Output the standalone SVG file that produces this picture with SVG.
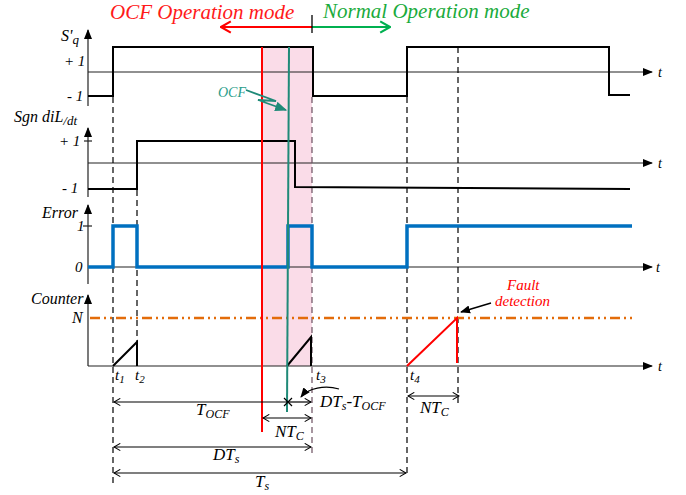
<svg xmlns="http://www.w3.org/2000/svg" width="686" height="495" viewBox="0 0 686 495" font-family="'Liberation Serif','Times New Roman',serif">
<defs>
<style>
text{font-family:"Liberation Serif","Times New Roman",serif;font-style:italic;fill:#000}
.ax{stroke:#222;stroke-width:1.2;fill:none}
.wf{stroke:#000;stroke-width:2;fill:none}
.blue{stroke:#0070c0;stroke-width:3.5;fill:none}
.dash{stroke:#000;stroke-width:1.2;stroke-dasharray:6 4;fill:none}
.dim{stroke:#000;stroke-width:1.2;fill:none;marker-start:url(#ch);marker-end:url(#ch)}
.lbl{font-size:15px}
.tl{font-size:14px}
</style>
<marker id="ah" viewBox="0 0 10 10" refX="9" refY="5" markerWidth="10" markerHeight="10" markerUnits="userSpaceOnUse" orient="auto">
<path d="M0,1 L10,5 L0,9 Z" fill="#000"/>
</marker>
<marker id="ch" viewBox="0 0 10 10" refX="9" refY="5" markerWidth="9" markerHeight="9" markerUnits="userSpaceOnUse" orient="auto-start-reverse">
<path d="M2,1 L9,5 L2,9" fill="none" stroke="#000" stroke-width="1.2"/>
</marker>
<marker id="chr" viewBox="0 0 10 10" refX="9" refY="5" markerWidth="14" markerHeight="14" markerUnits="userSpaceOnUse" orient="auto">
<path d="M2,1 L9,5 L2,9" fill="none" stroke="#ff0000" stroke-width="1.5"/>
</marker>
<marker id="chg" viewBox="0 0 10 10" refX="9" refY="5" markerWidth="14" markerHeight="14" markerUnits="userSpaceOnUse" orient="auto">
<path d="M2,1 L9,5 L2,9" fill="none" stroke="#00b050" stroke-width="1.5"/>
</marker>
<marker id="ta" viewBox="0 0 10 10" refX="9" refY="5" markerWidth="12" markerHeight="12" markerUnits="userSpaceOnUse" orient="auto">
<path d="M0,1 L10,5 L0,9 Z" fill="#1f8a78"/>
</marker>
</defs>

<g id="ocf-region">
<rect x="263" y="47" width="49" height="319" fill="#fadce8"/>
</g>

<g id="titles">
<text x="110" y="19" font-size="21" style="fill:#ff1a1a">OCF Operation mode</text>
<text x="323" y="18" font-size="21" style="fill:#1aab3c">Normal Operation mode</text>
<line x1="312" y1="27" x2="221" y2="27" stroke="#ff0000" stroke-width="1.8" marker-end="url(#chr)"/>
<line x1="312" y1="27" x2="390" y2="27" stroke="#00b050" stroke-width="1.8" marker-end="url(#chg)"/>
<line x1="312" y1="15" x2="312" y2="33" stroke="#000" stroke-width="1.3"/>
</g>

<g id="axes">
<line class="ax" x1="88" y1="106" x2="88" y2="30" marker-end="url(#ah)"/>
<line class="ax" x1="88" y1="72" x2="652" y2="72" marker-end="url(#ah)"/>
<line class="ax" x1="88" y1="197" x2="88" y2="128" marker-end="url(#ah)"/>
<line class="ax" x1="84" y1="141" x2="92" y2="141"/>
<line class="ax" x1="88" y1="163" x2="652" y2="163" marker-end="url(#ah)"/>
<line class="ax" x1="88" y1="284" x2="88" y2="205" marker-end="url(#ah)"/>
<line class="ax" x1="83" y1="226" x2="92" y2="226"/>
<line class="ax" x1="88" y1="267" x2="652" y2="267" marker-end="url(#ah)"/>
<line class="ax" x1="88" y1="366" x2="88" y2="295" marker-end="url(#ah)"/>
<line class="ax" x1="88" y1="366" x2="652" y2="366" marker-end="url(#ah)"/>
</g>

<g id="axis-labels">
<text x="61" y="41" font-size="16">S'<tspan font-size="13" dy="3">q</tspan></text>
<text class="lbl" x="64" y="66">+ 1</text>
<text class="lbl" x="67" y="101">- 1</text>
<text x="14" y="122" font-size="16">Sgn diL<tspan font-size="13" dy="3">/dt</tspan></text>
<text class="lbl" x="59" y="146">+ 1</text>
<text class="lbl" x="62" y="193">-  1</text>
<text x="42" y="218" font-size="16">Error</text>
<text class="lbl" x="77" y="231">1</text>
<text class="lbl" x="75" y="272">0</text>
<text x="31" y="304" font-size="16">Counter</text>
<text x="72" y="323" font-size="16">N</text>
<text class="tl" x="658" y="77">t</text>
<text class="tl" x="658" y="168">t</text>
<text class="tl" x="656" y="272">t</text>
<text class="tl" x="658" y="371">t</text>
</g>

<g id="dashed-lines">
<line class="dash" x1="113" y1="97" x2="113" y2="486"/>
<line class="dash" x1="137" y1="190" x2="137" y2="366"/>
<line class="dash" x1="312" y1="97" x2="312" y2="454" style="stroke:#6b5060"/>
<line class="dash" x1="407" y1="97" x2="407" y2="475"/>
<line class="dash" x1="458" y1="47" x2="458" y2="405"/>
</g>

<g id="waveforms">
<polyline class="wf" points="88,96 113,96 113,47 313,47 313,96 407,96 407,47 609,47 609,95 630,95"/>
<polyline class="wf" points="88,189 137,189 137,141 295,141 295,187 630,189"/>
<polyline class="blue" points="88,267 113,267 113,226 137,226 137,267 288,267 288,226 312,226 312,267 407,267 407,226 632,226"/>
<line x1="90" y1="318" x2="632" y2="318" stroke="#e36c0a" stroke-width="2.5" stroke-dasharray="10 4 2 4 2 4"/>
<polyline class="wf" points="113,366 137,342 137,366"/>
<polyline class="wf" points="287,366 311,337 311,366"/>
<polyline points="407,366 457,318 457,363" fill="none" stroke="#ff0000" stroke-width="2"/>
</g>

<g id="ocf-lines">
<line x1="262" y1="47" x2="262" y2="432" stroke="#ff0000" stroke-width="2"/>
<line x1="289" y1="47" x2="287" y2="412" stroke="#1f8a78" stroke-width="2"/>
<text x="218" y="97" font-size="14" style="fill:#2a9d8a">OCF</text>
<polyline points="246,90 276,101 258,100 286,110" fill="none" stroke="#1f8a78" stroke-width="1.8" marker-end="url(#ta)"/>
</g>

<g id="connectors">
<line class="dim" x1="114" y1="402" x2="287" y2="402" style="marker-end:none"/>
<line class="dim" x1="289" y1="402" x2="311" y2="402" style="marker-start:none"/>
<path d="M284,398 L292,406 M292,398 L284,406" stroke="#000" stroke-width="1.2"/>
<line class="dim" x1="263" y1="418" x2="311" y2="418"/>
<line class="dim" x1="114" y1="447" x2="311" y2="447"/>
<line class="dim" x1="114" y1="473" x2="406" y2="473"/>
<line class="dim" x1="408" y1="396" x2="459" y2="396"/>
<path d="M339,389 C325,385 308,388 301,397" fill="none" stroke="#000" stroke-width="1.2" marker-end="url(#ah)"/>
<line x1="491" y1="303" x2="461" y2="312" stroke="#000" stroke-width="1.5" marker-end="url(#ah)"/>
</g>

<g id="dim-labels">
<text x="115" y="380" font-size="15">t<tspan font-size="11" dy="3">1</tspan></text>
<text x="135" y="380" font-size="15">t<tspan font-size="11" dy="3">2</tspan></text>
<text x="316" y="380" font-size="15">t<tspan font-size="11" dy="3">3</tspan></text>
<text x="410" y="380" font-size="15">t<tspan font-size="11" dy="3">4</tspan></text>
<text x="196" y="415" font-size="17">T<tspan font-size="12" dy="3">OCF</tspan></text>
<text x="320" y="407" font-size="17">DT<tspan font-size="12" dy="3">s</tspan><tspan dy="-3">-T</tspan><tspan font-size="12" dy="3">OCF</tspan></text>
<text x="275" y="437" font-size="17">NT<tspan font-size="12" dy="3">C</tspan></text>
<text x="213" y="460" font-size="17">DT<tspan font-size="12" dy="3">s</tspan></text>
<text x="255" y="487" font-size="17">T<tspan font-size="12" dy="3">s</tspan></text>
<text x="420" y="413" font-size="17">NT<tspan font-size="12" dy="3">C</tspan></text>
<text x="507" y="290" font-size="15" style="fill:#ff0000">Fault</text>
<text x="495" y="306" font-size="15" style="fill:#ff0000">detection</text>
</g>
</svg>
